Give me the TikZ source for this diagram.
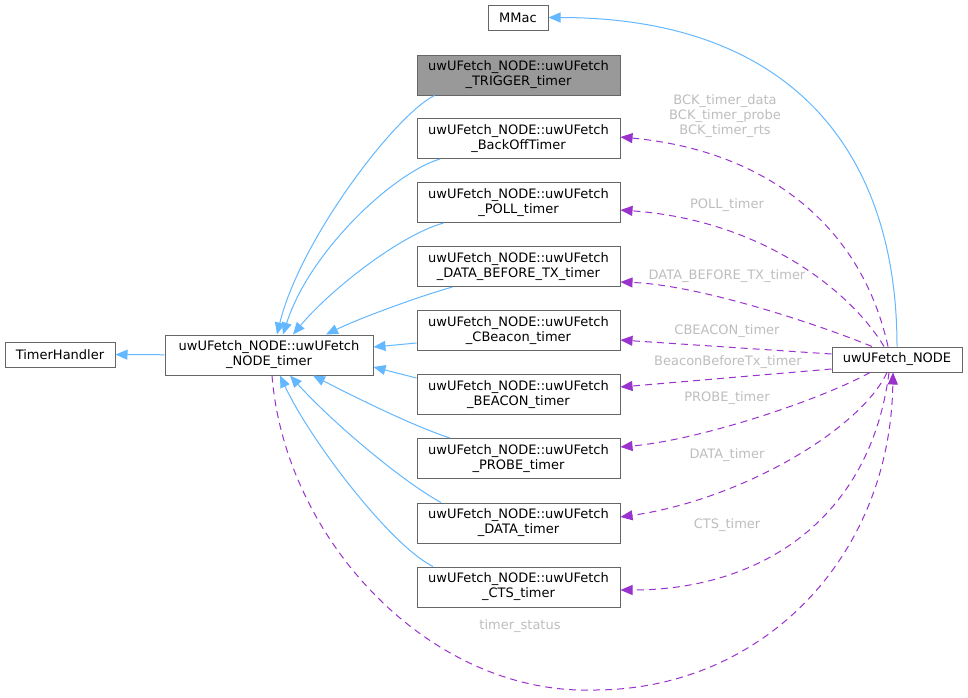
\documentclass[tikz,border=0pt]{standalone}
\usepackage{fontspec}
\setmainfont{DejaVu Sans}
\usetikzlibrary{arrows.meta,calc}
\definecolor{edgeblue}{HTML}{63B8FF}
\definecolor{edgepurple}{HTML}{9A32CD}
\definecolor{boxborder}{HTML}{666666}
\definecolor{labgray}{HTML}{BEBEBE}
\definecolor{trigfill}{HTML}{999999}
\tikzset{
  cls/.style={draw=boxborder, line width=1pt, fill=white, align=center, inner sep=0pt,
    font=\fontsize{13}{15}\selectfont, text=black},
  twoline/.style={cls, minimum width=203pt, minimum height=40pt},
  inh/.style={draw=edgeblue, line width=1pt, -{Triangle[length=12pt,width=10pt]}},
  usage/.style={draw=edgepurple, line width=1pt, dash pattern=on 7pt off 5pt,
    -{Triangle[length=12pt,width=10pt]}},
  lab/.style={text=labgray, align=center, font=\fontsize{13}{15}\selectfont, inner sep=0pt}
}
\begin{document}
\begin{tikzpicture}[x=1pt,y=-1pt]
\useasboundingbox (0,0) rectangle (968,697);
\fill[white] (0,0) rectangle (968,697);

% nodes
\node[cls, minimum width=60pt, minimum height=25pt] (mmac) at (518,17.5) {MMac};
\node[twoline, fill=trigfill] (trig) at (518.5,75) {uwUFetch\_NODE::uwUFetch\\\_TRIGGER\_timer};
\node[twoline] (backoff) at (518.5,138.5) {uwUFetch\_NODE::uwUFetch\\\_BackOffTimer};
\node[twoline] (poll) at (518.5,202.5) {uwUFetch\_NODE::uwUFetch\\\_POLL\_timer};
\node[twoline] (databefore) at (518.5,266.5) {uwUFetch\_NODE::uwUFetch\\\_DATA\_BEFORE\_TX\_timer};
\node[twoline] (cbeacon) at (518.5,330.5) {uwUFetch\_NODE::uwUFetch\\\_CBeacon\_timer};
\node[twoline] (beacon) at (518.5,394.5) {uwUFetch\_NODE::uwUFetch\\\_BEACON\_timer};
\node[twoline] (probe) at (518.5,458.5) {uwUFetch\_NODE::uwUFetch\\\_PROBE\_timer};
\node[twoline] (data) at (518.5,523) {uwUFetch\_NODE::uwUFetch\\\_DATA\_timer};
\node[twoline] (cts) at (518.5,587) {uwUFetch\_NODE::uwUFetch\\\_CTS\_timer};
\node[cls, minimum width=110pt, minimum height=25pt] (th) at (60,354.5) {TimerHandler};
\node[cls, minimum width=208pt, minimum height=40pt] (nt) at (269,355) {uwUFetch\_NODE::uwUFetch\\\_NODE\_timer};
\node[cls, minimum width=130pt, minimum height=25pt] (un) at (897,359.5) {uwUFetch\_NODE};

% inheritance edges
\draw[inh] (nt) -- (th);
\draw[inh] ($(trig.south)+(-84,0)$) .. controls (395,115) and (300,240) .. ($(nt.north)+(8,0)$);
\draw[inh] ($(backoff.south)+(-78.5,0)$) .. controls (395,172) and (310,250) .. ($(nt.north)+(14,0)$);
\draw[inh] ($(poll.south)+(-75,0)$) .. controls (400,235) and (330,290) .. ($(nt.north)+(24,0)$);
\draw[inh] ($(databefore.south)+(-66,0)$) .. controls (420,296) and (360,318) .. ($(nt.north)+(57,0)$);
\draw[inh] ($(cbeacon.west)+(0,12.5)$) -- ($(nt.east)+(0,-8)$);
\draw[inh] ($(beacon.west)+(0,-16.5)$) -- ($(nt.east)+(0,12)$);
\draw[inh] ($(probe.north)+(-68.5,0)$) .. controls (410,425) and (345,392) .. ($(nt.south)+(44,0)$);
\draw[inh] ($(data.north)+(-77.5,0)$) .. controls (400,480) and (330,420) .. ($(nt.south)+(21,0)$);
\draw[inh] ($(cts.north)+(-85.5,0)$) .. controls (390,545) and (310,440) .. ($(nt.south)+(11,0)$);
\draw[inh] (un.north) .. controls (897,150) and (790,17.5) .. (mmac.east);

% usage edges
\draw[usage] ($(un.north)+(-9,0)$) .. controls (860,220) and (760,150) .. ($(backoff.east)+(0,-1.5)$);
\draw[usage] ($(un.north)+(-13,0)$) .. controls (850,290) and (760,220) .. ($(poll.east)+(0,7.5)$);
\draw[usage] ($(un.north)+(-25,0)$) .. controls (820,325) and (700,285) .. ($(databefore.east)+(0,15.5)$);
\draw[usage] ($(un.west)+(0,-5.5)$) -- ($(cbeacon.east)+(0,9.5)$);
\draw[usage] ($(un.west)+(0,9.5)$) -- ($(beacon.east)+(0,-7.5)$);
\draw[usage] ($(un.south)+(-27,0)$) .. controls (820,400) and (700,440) .. ($(probe.east)+(0,-11.5)$);
\draw[usage] ($(un.south)+(-10,0)$) .. controls (860,430) and (740,500) .. ($(data.east)+(0,-6)$);
\draw[usage] ($(un.south)+(-8,0)$) .. controls (870,520) and (760,590) .. ($(cts.east)+(0,3)$);
\coordinate (low) at (594,690);
\draw[usage] ($(nt.south)+(3,0)$) .. controls (285,540) and (430,695) .. (low)
  .. controls (760,690) and (890,560) .. ($(un.south)+(-4,0)$);

% labels
\node[lab] (l1) at (725,116) {BCK\_timer\_data\\BCK\_timer\_probe\\BCK\_timer\_rts};
\node[lab] (l2) at (727,205) {POLL\_timer};
\node[lab] (l3) at (727,276) {DATA\_BEFORE\_TX\_timer};
\node[lab] (l4) at (727,331) {CBEACON\_timer};
\node[lab] (l5) at (728,362) {BeaconBeforeTx\_timer};
\node[lab] (l6) at (727,398) {PROBE\_timer};
\node[lab] (l7) at (727,455) {DATA\_timer};
\node[lab] (l8) at (727,525) {CTS\_timer};
\node[lab] (l9) at (520,626) {timer\_status};
\end{tikzpicture}
\end{document}
